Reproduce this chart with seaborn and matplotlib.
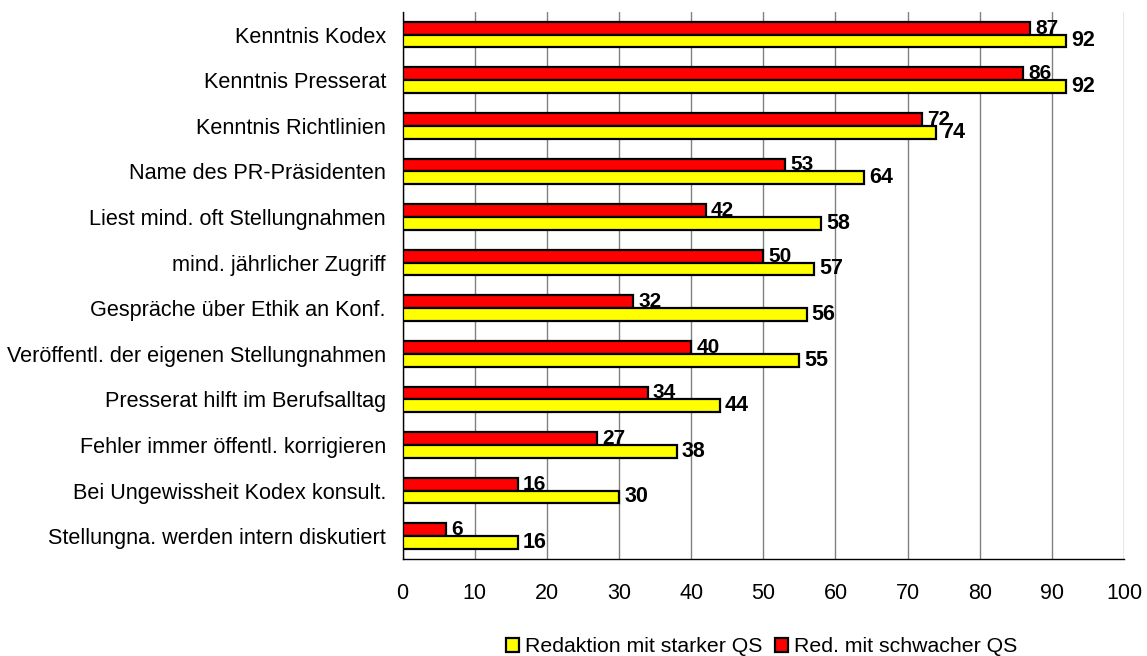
import numpy as np
import pandas as pd
import matplotlib
matplotlib.use('Agg')
import matplotlib.pyplot as plt
import seaborn as sns
from matplotlib.patches import Patch

categories = ['Kenntnis Kodex', 'Kenntnis Presserat', 'Kenntnis Richtlinien',
              'Name des PR-Präsidenten', 'Liest mind. oft Stellungnahmen',
              'mind. jährlicher Zugriff', 'Gespräche über Ethik an Konf.',
              'Veröffentl. der eigenen Stellungnahmen', 'Presserat hilft im Berufsalltag',
              'Fehler immer öffentl. korrigieren', 'Bei Ungewissheit Kodex konsult.',
              'Stellungna. werden intern diskutiert']
strong = [92, 92, 74, 64, 58, 57, 56, 55, 44, 38, 30, 16]
weak = [87, 86, 72, 53, 42, 50, 32, 40, 34, 27, 16, 6]
series_strong = 'Redaktion mit starker QS'
series_weak = 'Red. mit schwacher QS'

df = pd.concat([
    pd.DataFrame({'kat': categories, 'wert': weak, 'gruppe': series_weak}),
    pd.DataFrame({'kat': categories, 'wert': strong, 'gruppe': series_strong}),
])

sns.set_style('white')
plt.rcParams['font.family'] = ['Liberation Sans', 'DejaVu Sans']
plt.rcParams['text.color'] = 'black'
plt.rcParams['xtick.color'] = 'black'
plt.rcParams['ytick.color'] = 'black'
plt.rcParams['axes.labelcolor'] = 'black'

fig, ax = plt.subplots(figsize=(11.47, 6.56), dpi=100)
fig.subplots_adjust(left=0.351, right=0.980, top=0.982, bottom=0.148)

sns.barplot(data=df, x='wert', y='kat', hue='gruppe', order=categories,
            hue_order=[series_weak, series_strong],
            palette={series_weak: '#ff0000', series_strong: '#ffff00'},
            saturation=1, orient='h', width=0.56, gap=0,
            edgecolor='black', linewidth=1.6,
            ax=ax, legend=False, zorder=3)

# Werte an die Balken schreiben (rote Werte liegen hinter den gelben Balken)
for cont, z, size in zip(ax.containers, [2, 4], [15, 15.5]):
    for bar in cont:
        w = bar.get_width()
        yc = bar.get_y() + bar.get_height() / 2
        ax.text(w + 0.7, yc, f'{w:.0f}', va='center', ha='left',
                fontsize=size, fontweight='bold', zorder=z)

ax.set_xlim(0, 100)
ax.set_ylim(len(categories) - 0.5, -0.5)
ax.set_xticks(np.arange(0, 101, 10))
ax.xaxis.grid(True, color='#808080', linewidth=1, zorder=0)
ax.set_axisbelow(True)
ax.set_xlabel('')
ax.set_ylabel('')

ax.set_yticks(np.arange(len(categories)))
ax.set_yticklabels(categories)
ax.set_yticks(np.arange(-0.5, len(categories), 1), minor=True)
ax.tick_params(axis='y', which='major', length=0, labelsize=15.6, pad=12)
ax.tick_params(axis='y', which='minor', length=6, width=1, color='black', direction='out')
ax.tick_params(axis='x', length=6, width=1, color='black', direction='out', labelsize=15.5, pad=11)

for s in ['top', 'right']:
    ax.spines[s].set_visible(False)
for s in ['left', 'bottom']:
    ax.spines[s].set_color('black')
    ax.spines[s].set_linewidth(1)

handles = [Patch(facecolor='#ffff00', edgecolor='black', linewidth=1.6, label=series_strong),
           Patch(facecolor='#ff0000', edgecolor='black', linewidth=1.6, label=series_weak)]
fig.legend(handles=handles, loc='center', bbox_to_anchor=(0.664, 0.014), ncol=2,
           frameon=False, fontsize=15.3, handlelength=0.62, handleheight=0.62,
           handletextpad=0.28, columnspacing=0.62, borderaxespad=0, borderpad=0)

fig.savefig('out.png', dpi=100)
